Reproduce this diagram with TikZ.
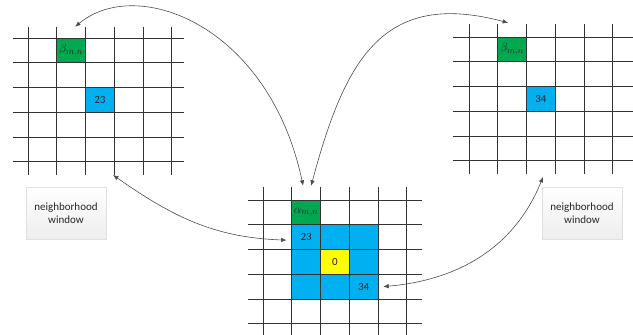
\documentclass[tikz,border=0pt]{standalone}
\usepackage{fontspec}
\setmainfont{Carlito}
\usetikzlibrary{arrows.meta,shadows}

\definecolor{cellgreen}{RGB}{0,168,80}
\definecolor{cellblue}{RGB}{0,176,240}
\definecolor{cellyellow}{RGB}{255,255,0}

\tikzset{
  gridline/.style={draw=black!80, line width=0.65pt},
  cell/.style={minimum width=28.75pt, minimum height=24.75pt, inner sep=0pt,
    font=\fontsize{11}{13}\selectfont, text=black!85},
  mathcell/.style={cell, fill=cellgreen, font=\fontsize{13}{15}\selectfont},
  link/.style={draw=black!70, line width=0.6pt,
    {Latex[length=5.5pt,width=4.5pt]}-{Latex[length=5.5pt,width=4.5pt]}},
  winbox/.style={draw=black!12, top color=white, bottom color=black!7,
    minimum width=80pt, minimum height=52pt, align=center,
    font=\fontsize{11}{13.5}\selectfont, text=black!85,
    drop shadow={shadow xshift=1pt, shadow yshift=-1pt, opacity=0.12}}
}

\begin{document}
\begin{tikzpicture}[x=1pt,y=1pt]
    \useasboundingbox (0,0) rectangle (633,335);

    \begin{scope}[shift={(28,297)}]
        \node[mathcell] (lbeta) at (1.5*28.75,-0.5*24.75) {$\beta_{m,n}$};
        \node[cell, fill=cellblue] (l23) at (2.5*28.75,-2.5*24.75) {23};
        \foreach \i in {0,...,5} {
            \draw[gridline] (\i*28.75,11) -- (\i*28.75,-137);
            \draw[gridline] (-15,-\i*24.75) -- (156,-\i*24.75);
        }
        \coordinate (lbot) at (85,-137);
    \end{scope}

    \begin{scope}[shift={(469,298)}]
        \node[mathcell] (rbeta) at (1.5*28.75,-0.5*24.75) {$\beta_{m,n}$};
        \node[cell, fill=cellblue] (r34) at (2.5*28.75,-2.5*24.75) {34};
        \foreach \i in {0,...,5} {
            \draw[gridline] (\i*28.75,13) -- (\i*28.75,-137);
            \draw[gridline] (-16,-\i*24.75) -- (164,-\i*24.75);
        }
        \coordinate (rbot) at (74,-140);
    \end{scope}

    \begin{scope}[shift={(263,135)}]
        \fill[cellblue] (28.75,-24.75) rectangle (4*28.75,-4*24.75);
        \node[mathcell] (calpha) at (1.5*28.75,-0.5*24.75) {$\alpha_{m,n}$};
        \node[cell, fill=cellyellow] (c0) at (2.5*28.75,-2.5*24.75) {0};
        \node[cell] (c23) at (1.5*28.75,-1.5*24.75) {23};
        \node[cell] (c34) at (3.5*28.75,-3.5*24.75) {34};
        \foreach \i in {0,...,5} {
            \draw[gridline] (\i*28.75,13) -- (\i*28.75,-135);
            \draw[gridline] (-15,-\i*24.75) -- (159,-\i*24.75);
        }
    \end{scope}

    \node[winbox] (lwin) at (66,122) {neighborhood\\window};
    \node[winbox] (rwin) at (582,122) {neighborhood\\window};

    \coordinate (ltip) at ([shift={(4,11)}]lbeta.north);
    \coordinate (rtip) at ([shift={(-4,14)}]rbeta.north);
    \coordinate (atop1) at ([shift={(-3,14)}]calpha.north);
    \coordinate (atop2) at ([shift={(5,14)}]calpha.north);
    \coordinate (c23in) at ([shift={(-5,-3)}]c23.west);
    \coordinate (c34in) at ([shift={(5,0)}]c34.east);

    \draw[link] (ltip) to[out=40, out distance=80, in=102, in distance=165] (atop1);
    \draw[link] (atop2) to[out=75, out distance=130, in=165, in distance=130] (rtip);
    \draw[link] (lbot) to[out=-35, in=178] (c23in);
    \draw[link] (c34in) to[out=5, in=-112] (rbot);

\end{tikzpicture}
\end{document}
